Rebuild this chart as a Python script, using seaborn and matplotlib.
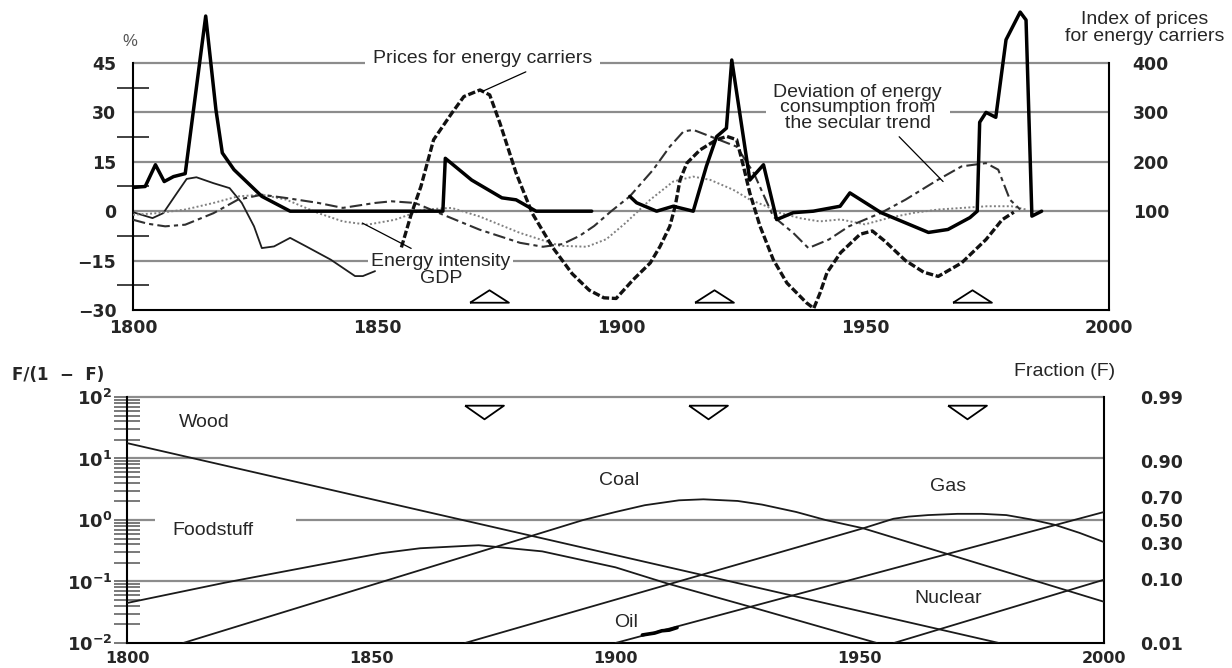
import numpy as np
import matplotlib
matplotlib.use("Agg")
import matplotlib.pyplot as plt
import seaborn as sns
from matplotlib.ticker import MultipleLocator, FuncFormatter, FixedLocator, LogLocator, NullLocator

# ---------------- top panel data (percent deviations, index) ----------------
index_a_years = [1800, 1802.5, 1804.6, 1806.4, 1808.3, 1810.7, 1814.9, 1817.0, 1818.3, 1820.7,
                 1826.4, 1832.2, 1863.5, 1864.0, 1869.4, 1875.6, 1878.5, 1882.6, 1894.0]
index_a = [148, 150, 194, 160, 170, 176, 495, 305, 218, 184,
           130, 100, 100, 207, 163, 127, 123, 100, 100]
index_b_years = [1901.8, 1903.2, 1907.3, 1910.7, 1914.8, 1917.5, 1919.6, 1921.6, 1922.7, 1926.4,
                 1929.2, 1931.9, 1935.3, 1939.4, 1944.9, 1946.9, 1953.3, 1963.0, 1967.0, 1971.5,
                 1973.0, 1973.5, 1974.8, 1976.8, 1978.9, 1981.8, 1983.0, 1984.2, 1986.2]
index_b = [130, 117, 100, 110, 100, 191, 251, 268, 406, 163,
           194, 83, 97, 100, 110, 137, 97, 57, 63, 87,
           100, 280, 300, 290, 447, 503, 487, 90, 100]

price_dev_years = [1855, 1857, 1859, 1861.6, 1865.3, 1867.8, 1871.1, 1873.1, 1875.2, 1878.5,
                   1881.8, 1886, 1890, 1893.5, 1896.5, 1899, 1902.5, 1906, 1908, 1910,
                   1911.1, 1912.1, 1913.5, 1916.2, 1919.6, 1921.7, 1923.7, 1925.1, 1926.4, 1928.5,
                   1931.2, 1934, 1938, 1939.5, 1940.8, 1942.2, 1945, 1949, 1951.5, 1954,
                   1958.3, 1962, 1965, 1969.8, 1974.8, 1978.1, 1980.5]
price_dev = [-11, -1, 7.5, 21.7, 29.7, 34.8, 36.8, 35.3, 26.7, 11.6,
             -0.6, -11, -19, -24, -26.3, -26.5, -20.8, -15.7, -10.7, -4.6,
             1.5, 9.5, 14.6, 18.6, 21.7, 22.7, 21.7, 13.6, 5.5, -4.6,
             -14.7, -21.8, -27.8, -29.5, -24.8, -18.7, -12.6, -7, -6, -9,
             -15, -18.5, -19.8, -15.7, -8.6, -2.6, -0.3]

dev_years = [1800, 1803, 1806.6, 1810.7, 1816.5, 1821.5, 1826.4, 1831.4, 1838, 1843,
             1849.6, 1853, 1857.8, 1863.6, 1871, 1879.3, 1884, 1888, 1891.5, 1894.5,
             1898, 1901.8, 1906.6, 1910, 1912.8, 1914.8, 1918.3, 1923.7, 1927.2, 1931.2,
             1935.3, 1938.4, 1942.6, 1946.7, 1953.3, 1958.3, 1964.9, 1969.8, 1974.8, 1977.3,
             1979.7, 1981.8]
dev = [-2.6, -3.8, -4.6, -4.1, -0.6, 3.5, 5.0, 4.0, 2.5, 1.0,
       2.5, 3.0, 2.5, -1.1, -5.6, -9.6, -10.8, -10.0, -7.5, -4.5,
       0.0, 4.5, 12.6, 19.6, 24.2, 24.7, 22.7, 19.6, 11.6, -1.6,
       -6.6, -11.2, -8.6, -4.6, -0.5, 3.5, 9.5, 13.6, 14.6, 12.6,
       3.5, 0.5]

gdp_years = [1800, 1805, 1810.7, 1816.5, 1821.5, 1826.4, 1831.4, 1838, 1843, 1848,
             1853.7, 1859.5, 1865.3, 1871, 1879.3, 1887.5, 1893, 1897, 1901, 1906,
             1910.7, 1914.8, 1918.3, 1923, 1926.4, 1929.8, 1932.5, 1936.6, 1940.7, 1945,
             1950, 1955, 1960, 1965, 1970, 1975, 1980, 1983]
gdp = [-1.1, -0.6, 0.5, 2.5, 4.5, 5.0, 3.5, -0.6, -3.1, -4.1,
       -2.6, 0.5, 1.0, -1.6, -6.6, -10.5, -10.8, -8.5, -3.5, 3.5,
       9.0, 10.5, 9.5, 6.5, 3.5, 1.5, -0.5, -2.1, -3.1, -2.5,
       -4.0, -2.0, -0.5, 0.5, 1.0, 1.5, 1.5, 0.5]

intensity_years = [1800, 1804, 1806.2, 1809, 1811, 1813, 1816.5, 1819.8, 1822.3, 1824.8,
                   1826.4, 1828.9, 1832.2, 1835.5, 1840.5, 1845.5, 1847.1, 1849.6]
intensity = [-0.3, -2.1, -0.6, 5.5, 9.8, 10.3, 8.5, 7.0, 2.5, -4.6,
             -11.2, -10.7, -8.1, -10.7, -14.7, -19.7, -19.7, -18.2]

wave_years = [1873, 1919, 1972]

# ---------------- bottom panel data: F/(1-F) ----------------
wood_years = [1800, 1978.5]
wood = [17.8, 0.01]
food_years = [1800, 1820, 1840, 1852, 1860, 1872, 1885, 1900, 1910.5, 1928, 1953.5]
food = [0.0447, 0.0955, 0.191, 0.288, 0.347, 0.389, 0.309, 0.170, 0.0933, 0.038, 0.01]
coal_years = [1811.5, 1893.4, 1900, 1906, 1913, 1918, 1925, 1930, 1937, 1943, 1950.7, 2000]
coal = [0.01, 1.0, 1.35, 1.74, 2.09, 2.17, 2.04, 1.78, 1.35, 1.0, 0.733, 0.0468]
gas_years = [1869.2, 1950.7, 1956.9, 1960, 1964, 1970, 1975, 1980, 1985, 1990, 1995, 2000]
gas = [0.01, 0.733, 1.047, 1.135, 1.202, 1.259, 1.259, 1.202, 1.023, 0.832, 0.617, 0.437]
oil_years = [1900, 2000]
oil = [0.01, 1.35]
oil_obs_years = [1905.5, 1907, 1908, 1909.5, 1911, 1912.6]
oil_obs = [0.0135, 0.0141, 0.0145, 0.0158, 0.0162, 0.0178]
nuclear_years = [1957, 2000]
nuclear = [0.01, 0.107]
fraction_ticks = [0.99, 0.90, 0.70, 0.50, 0.30, 0.10, 0.01]
wave_years_low = [1873, 1919, 1972]

# ---------------- styling ----------------
sns.set_style("white")
plt.rcParams["font.family"] = ["Liberation Sans", "DejaVu Sans"]
plt.rcParams["mathtext.fontset"] = "dejavusans"
GRID = "#8c8c8c"
TICKFONT = dict(family="DejaVu Sans", weight="bold", size=12.5)
TXT = 14


def line(ax, x, y, **kw):
    sns.lineplot(x=x, y=y, ax=ax, estimator=None, sort=False, **kw)


def decade_fmt(v, p):
    return f"{int(round(v))}" if round(v) % 50 == 0 else ""


fig = plt.figure(figsize=(12.32, 6.68), dpi=100)

# =============== TOP PANEL ===============
ax1 = fig.add_axes([0.10795, 0.53593, 0.79221, 0.4487])
ax1.set_xlim(1800, 2000)
ax1.set_ylim(-30, 61)
ax1.hlines([45, 30, 15, 0, -15], 1800, 2000, colors=GRID, lw=1.6, zorder=1)

line(ax1, intensity_years, intensity, color="#1e1e1e", lw=1.3, zorder=3)
line(ax1, gdp_years, gdp, color="#808080", lw=1.4, linestyle=(0, (1, 1.2)), zorder=3)
line(ax1, dev_years, dev, color="#303030", lw=1.5, linestyle=(0, (6, 2, 2, 2)), zorder=3)
line(ax1, price_dev_years, price_dev, color="#111111", lw=2.4, linestyle=(0, (2.2, 0.8)), zorder=3)

up_tri = [(-1, -0.32), (1, -0.32), (0, 0.32), (-1, -0.32)]
ax1.plot(wave_years, [-25.9] * len(wave_years), linestyle="none", marker=up_tri, ms=28,
         mfc="white", mec="black", mew=1.3, zorder=3)

ax1.set_yticks([-30, -15, 0, 15, 30, 45])
ax1.set_yticklabels(["\u221230", "\u221215", "0", "15", "30", "45"], fontdict=TICKFONT)
ax1.yaxis.set_minor_locator(FixedLocator([-22.5, -7.5, 7.5, 22.5, 37.5]))
ax1.tick_params(axis="y", which="major", length=0, pad=12)
ax1.tick_params(axis="y", which="minor", length=23, width=1.3, direction="inout", color="#333")
ax1.xaxis.set_major_locator(MultipleLocator(10))
ax1.xaxis.set_major_formatter(FuncFormatter(decade_fmt))
ax1.tick_params(axis="x", which="major", length=10, width=1.3, direction="inout", pad=1.5)
for lab in ax1.get_xticklabels():
    lab.set_fontproperties(matplotlib.font_manager.FontProperties(**TICKFONT))
ax1.spines["top"].set_visible(False)
for s in ("left", "right"):
    ax1.spines[s].set_bounds(-30, 45)
for s in ("left", "right", "bottom"):
    ax1.spines[s].set_linewidth(1.5)
    ax1.spines[s].set_color("black")
ax1.set_xlabel("")
ax1.set_ylabel("")

bbox_w = dict(boxstyle="square,pad=0.4", fc="white", ec="none")
ax1.text(1871.7, 46.5, "Prices for energy carriers", ha="center", va="center", fontsize=TXT,
         bbox=bbox_w, zorder=2)
ax1.text(1948.5, 31.4, "Deviation of energy\nconsumption from\nthe secular trend", ha="center",
         va="center", fontsize=TXT, linespacing=0.88, bbox=bbox_w, zorder=2)
ax1.text(1863.1, -17.9, "Energy intensity\nGDP", ha="center", va="center", fontsize=TXT,
         linespacing=1.0, bbox=dict(boxstyle="square,pad=0.15", fc="white", ec="none"), zorder=2)
arrow = dict(arrowstyle="-", color="black", lw=0.9, shrinkA=0, shrinkB=0)
ax1.annotate("", xy=(1871.5, 36.3), xytext=(1880.5, 42.3), arrowprops=arrow)
ax1.annotate("", xy=(1966, 9), xytext=(1957, 22.6), arrowprops=arrow)
ax1.annotate("", xy=(1847, -3.6), xytext=(1857, -11.3), arrowprops=arrow)

# right index axis
ax1r = ax1.twinx()
ax1r.set_ylim(100 - 30 * 20 / 3, 100 + 61 * 20 / 3)
line(ax1r, index_a_years, index_a, color="black", lw=2.5, zorder=4)
line(ax1r, index_b_years, index_b, color="black", lw=2.5, zorder=4)
ax1r.set_yticks([100, 200, 300, 400])
ax1r.set_yticklabels(["100", "200", "300", "400"], fontdict=TICKFONT)
ax1r.tick_params(axis="y", length=0, pad=17)
for s in ax1r.spines.values():
    s.set_visible(False)
ax1r.set_ylabel("")

# =============== BOTTOM PANEL ===============
ax2 = fig.add_axes([0.10308, 0.03743, 0.79302, 0.36826])
ax2.set_yscale("log")
ax2.set_xlim(1800, 2000)
ax2.set_ylim(1e-2, 1e2)
ax2.hlines([1e2, 1e1, 1e-1], 1800, 2000, colors=GRID, lw=1.6, zorder=1, clip_on=False)
ax2.hlines([1e0], 1800, 1805.7, colors=GRID, lw=1.6, zorder=1)
ax2.hlines([1e0], 1834.6, 2000, colors=GRID, lw=1.6, zorder=1)

for xs, ys in ((wood_years, wood), (food_years, food), (coal_years, coal),
               (gas_years, gas), (oil_years, oil), (nuclear_years, nuclear)):
    line(ax2, xs, ys, color="#1a1a1a", lw=1.3, zorder=3)
line(ax2, oil_obs_years, oil_obs, color="black", lw=2.6, zorder=3)

down_tri = [(-1, 0.35), (1, 0.35), (0, -0.35), (-1, 0.35)]
ax2.plot(wave_years_low, [56] * len(wave_years_low), linestyle="none", marker=down_tri, ms=28,
         mfc="white", mec="black", mew=1.3, zorder=3)

ax2.set_yticks([1e-2, 1e-1, 1e0, 1e1, 1e2])
ax2.set_yticklabels([r"$\mathbf{10^{-2}}$", r"$\mathbf{10^{-1}}$", r"$\mathbf{10^{0}}$",
                     r"$\mathbf{10^{1}}$", r"$\mathbf{10^{2}}$"], fontsize=13)
ax2.yaxis.set_minor_locator(LogLocator(base=10, subs=np.arange(2, 10)))
ax2.yaxis.set_minor_formatter(matplotlib.ticker.NullFormatter())
ax2.tick_params(axis="y", which="both", direction="inout", length=19, width=1.1,
                color="#555", left=True, right=True, pad=1)
ax2.xaxis.set_major_locator(MultipleLocator(10))
ax2.xaxis.set_major_formatter(FuncFormatter(decade_fmt))
ax2.tick_params(axis="x", which="major", length=10, width=1.3, direction="inout", pad=0.5)
for lab in ax2.get_xticklabels():
    lab.set_fontproperties(matplotlib.font_manager.FontProperties(family="DejaVu Sans",
                                                                  weight="bold", size=11.5))
ax2.spines["top"].set_visible(False)
for s in ("left", "right", "bottom"):
    ax2.spines[s].set_linewidth(1.5)
    ax2.spines[s].set_color("black")
ax2.set_xlabel("")
ax2.set_ylabel("")

for txt, xx, yy in (("Wood", 1815.9, 38.9), ("Foodstuff", 1817.6, 0.687), ("Coal", 1900.7, 4.47),
                    ("Gas", 1968.1, 3.44), ("Nuclear", 1968.1, 0.0537), ("Oil", 1902.1, 0.0219)):
    ax2.text(xx, yy, txt, ha="center", va="center", fontsize=TXT, zorder=4)

ax2r = ax2.twinx()
ax2r.set_yscale("log")
ax2r.set_ylim(1e-2, 1e2)
ax2r.set_yticks([f / (1 - f) for f in fraction_ticks])
ax2r.set_yticklabels([f"{f:.2f}" for f in fraction_ticks], fontdict=TICKFONT)
ax2r.yaxis.set_minor_locator(NullLocator())
ax2r.tick_params(axis="y", which="both", length=0, pad=26)
for s in ax2r.spines.values():
    s.set_visible(False)

# =============== figure texts ===============
fig.text(130 / 1232, 1 - 41 / 668, "%", ha="center", va="center", fontsize=12, color="#555")
fig.text(1145 / 1232, 1 - 28 / 668, "Index of prices\nfor energy carriers", ha="center",
         va="center", fontsize=TXT, linespacing=1.0)
fig.text(12 / 1232, 1 - 375 / 668, "F/(1  \u2212  F)", ha="left", va="center", fontsize=12,
         fontweight="bold", family="DejaVu Sans")
fig.text(1065 / 1232, 1 - 372 / 668, "Fraction (F)", ha="center", va="center", fontsize=TXT)

fig.savefig("out.png", dpi=100)
